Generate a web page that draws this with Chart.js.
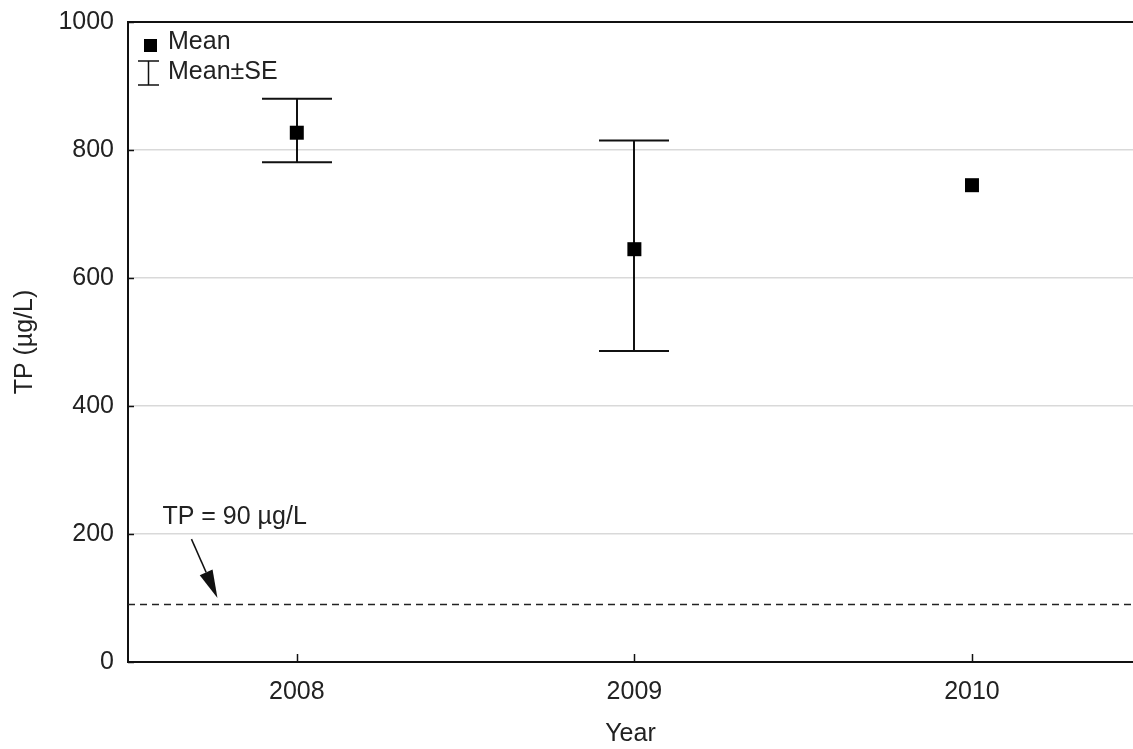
<!DOCTYPE html>
<html><head><meta charset="utf-8">
<script src="https://cdn.jsdelivr.net/npm/chart.js@4/dist/chart.umd.min.js"></script>
<style>html,body{margin:0;padding:0;overflow:hidden;background:#fff}canvas{display:block}</style>
</head><body><canvas id="c" width="1133" height="749" style="width:1133px;height:749px"></canvas>
<script>
// ---- data ----
const years = [2008, 2009, 2010];
const means = [827, 645, 745];
const seUpper = [880, 815, null];
const seLower = [781, 486, null];
const xTickValues = [2008, 2009, 2010];
const yTickValues = [0, 200, 400, 600, 800, 1000];
const threshold = 90;
const thresholdLabel = 'TP = 90 µg/L';
const legendLabels = ['Mean', 'Mean±SE'];
const xTitle = 'Year';
const yTitle = 'TP (µg/L)';

const FONT = 'Liberation Sans, Arial, sans-serif';
const TEXT = '#222';
const FS = 25;
Chart.defaults.font.family = FONT;
Chart.defaults.font.size = FS;
Chart.defaults.color = TEXT;

const decor = {
  id: 'decor',
  beforeDatasetsDraw(chart) {
    const {ctx, scales: {x, y}} = chart;
    ctx.save();
    ctx.strokeStyle = '#111';
    ctx.lineWidth = 2;
    years.forEach((yr, i) => {
      if (seUpper[i] == null) return;
      const px = Math.round(x.getPixelForValue(yr));
      const t = y.getPixelForValue(seUpper[i]);
      const b = y.getPixelForValue(seLower[i]);
      ctx.beginPath();
      ctx.moveTo(px, t); ctx.lineTo(px, b);
      ctx.moveTo(px - 35, t); ctx.lineTo(px + 35, t);
      ctx.moveTo(px - 35, b); ctx.lineTo(px + 35, b);
      ctx.stroke();
    });
    const ty = y.getPixelForValue(threshold);
    ctx.lineWidth = 1.5;
    ctx.strokeStyle = '#222';
    ctx.setLineDash([7, 5]);
    ctx.beginPath();
    ctx.moveTo(chart.chartArea.left, ty); ctx.lineTo(chart.chartArea.right, ty);
    ctx.stroke();
    ctx.setLineDash([]);
    ctx.restore();
  },
  afterDraw(chart) {
    const {ctx, chartArea: ca, scales: {x, y}} = chart;
    ctx.save();
    ctx.strokeStyle = '#111';
    ctx.lineWidth = 2;
    ctx.beginPath();
    ctx.moveTo(ca.left - 1, ca.top); ctx.lineTo(ca.right, ca.top);
    ctx.stroke();
    ctx.lineWidth = 1.5;
    yTickValues.forEach(v => {
      const py = Math.round(y.getPixelForValue(v)) + 0.5;
      ctx.beginPath(); ctx.moveTo(ca.left, py); ctx.lineTo(ca.left + 6, py); ctx.stroke();
    });
    xTickValues.forEach(v => {
      const px = Math.round(x.getPixelForValue(v)) + 0.5;
      ctx.beginPath(); ctx.moveTo(px, ca.bottom); ctx.lineTo(px, ca.bottom - 8); ctx.stroke();
    });
    // legend
    ctx.fillStyle = '#000';
    ctx.fillRect(ca.left + 16, ca.top + 17, 13, 13);
    ctx.lineWidth = 1.5;
    ctx.beginPath();
    const lx = ca.left + 20.5;
    ctx.moveTo(lx, ca.top + 39); ctx.lineTo(lx, ca.top + 63);
    ctx.moveTo(lx - 10.5, ca.top + 39); ctx.lineTo(lx + 10.5, ca.top + 39);
    ctx.moveTo(lx - 10.5, ca.top + 63); ctx.lineTo(lx + 10.5, ca.top + 63);
    ctx.stroke();
    ctx.fillStyle = TEXT;
    ctx.font = FS + 'px ' + FONT;
    ctx.textBaseline = 'middle';
    ctx.textAlign = 'left';
    ctx.fillText(legendLabels[0], ca.left + 40, ca.top + 20);
    ctx.fillText(legendLabels[1], ca.left + 40, ca.top + 50);
    // threshold annotation
    const tx = x.getPixelForValue(2007.602);
    const tyy = y.getPixelForValue(227);
    ctx.fillText(thresholdLabel, tx, tyy);
    const ax0 = x.getPixelForValue(2007.688), ay0 = y.getPixelForValue(192);
    const ax1 = x.getPixelForValue(2007.765), ay1 = y.getPixelForValue(100);
    const ang = Math.atan2(ay1 - ay0, ax1 - ax0);
    const hl = 28, hw = 7;
    const bx = ax1 - hl * Math.cos(ang), by = ay1 - hl * Math.sin(ang);
    ctx.strokeStyle = '#111';
    ctx.lineWidth = 1.5;
    ctx.beginPath(); ctx.moveTo(ax0, ay0); ctx.lineTo(bx, by); ctx.stroke();
    ctx.fillStyle = '#111';
    ctx.beginPath();
    ctx.moveTo(ax1, ay1);
    ctx.lineTo(bx + hw * Math.sin(ang), by - hw * Math.cos(ang));
    ctx.lineTo(bx - hw * Math.sin(ang), by + hw * Math.cos(ang));
    ctx.closePath(); ctx.fill();
    ctx.restore();
  }
};

new Chart(document.getElementById('c'), {
  type: 'scatter',
  data: {
    datasets: [{
      data: years.map((yr, i) => ({x: yr, y: means[i]})),
      pointStyle: 'rect',
      pointRadius: 9.9,
      pointHoverRadius: 9.9,
      backgroundColor: '#000',
      borderWidth: 0
    }]
  },
  options: {
    responsive: false,
    animation: false,
    devicePixelRatio: 1,
    layout: {autoPadding: false, padding: {top: 22, left: 0, right: 0, bottom: 0}},
    plugins: {legend: {display: false}, tooltip: {enabled: false}},
    scales: {
      x: {
        type: 'linear', min: 2007.5, max: 2010.477,
        afterFit(s) { s.height = 87; s.paddingLeft = 0; s.paddingRight = 0; },
        afterBuildTicks(s) { s.ticks = xTickValues.map(v => ({value: v})); },
        grid: {display: false, drawTicks: false},
        border: {display: true, color: '#111', width: 2},
        ticks: {padding: 15, color: TEXT, font: {size: FS}, callback: v => String(v), maxRotation: 0},
        title: {display: true, text: xTitle, color: TEXT, font: {size: FS}, padding: {top: 0, bottom: 0}}
      },
      y: {
        min: 0, max: 1000,
        afterFit(s) { s.width = 128; s.paddingTop = 0; s.paddingBottom = 0; },
        afterBuildTicks(s) { s.ticks = yTickValues.map(v => ({value: v})); },
        grid: {
          drawTicks: false,
          color: c => (c.tick && (c.tick.value === 0 || c.tick.value === 1000)) ? 'rgba(0,0,0,0)' : '#d9d9d9',
          lineWidth: 1.5
        },
        border: {display: true, color: '#111', width: 2},
        ticks: {padding: 14, color: TEXT, font: {size: FS}, callback: v => String(v)},
        title: {display: true, text: yTitle, color: TEXT, font: {size: FS}, padding: {top: 10, bottom: 0}}
      }
    }
  },
  plugins: [decor]
});
</script>
</body></html>
